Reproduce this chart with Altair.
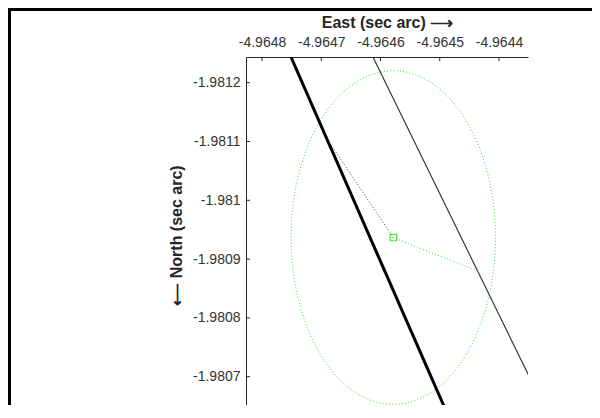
import altair as alt
import pandas as pd
import numpy as np

# Axis ticks and visible domain
x_ticks = [-4.9648, -4.9647, -4.9646, -4.9645, -4.9644]
y_ticks = [-1.9812, -1.9811, -1.9810, -1.9809, -1.9808, -1.9807]
x_domain = [-4.964827, -4.964351]
y_domain = [-1.9812437, -1.9806383]

# Thick black line
thick_x = [-4.9647511, -4.9644878]
thick_y = [-1.9812437, -1.9806383]
# Thin black line
thin_x = [-4.9646127, -4.9643502]
thin_y = [-1.9812437, -1.9807029]
# Error ellipse (centre and semi-axes)
ell_cx = -4.9645784
ell_cy = -1.9809366
ell_a = 0.0001725
ell_b = 0.0002837
# Dotted connectors
black_dot_x = [-4.9646895, -4.9645784]
black_dot_y = [-1.9811034, -1.9809366]
green_dot_x = [-4.9645784, -4.9644358]
green_dot_y = [-1.9809366, -1.9808798]

W, H = 282, 356
PAD = {"left": 238, "top": 49, "right": 64, "bottom": -8}

xs = alt.Scale(domain=x_domain, nice=False, zero=False)
ys = alt.Scale(domain=y_domain, nice=False, zero=False, reverse=True)

t = np.linspace(0, 2 * np.pi, 241)
ell_df = pd.DataFrame({"x": ell_cx + ell_a * np.cos(t),
                       "y": ell_cy + ell_b * np.sin(t),
                       "o": np.arange(len(t))})


def seg(xv, yv):
    return pd.DataFrame({"x": xv, "y": yv, "o": list(range(len(xv)))})


x_axis = alt.Axis(orient="top", values=x_ticks, format="~g", grid=False, ticks=False,
                  labelExpr="replace(datum.label, '\u2212', '-')",
                  title="East (sec arc) \u27f6", labelPadding=8, titlePadding=5)
y_axis = alt.Axis(orient="left", values=y_ticks, format="~g", grid=False, ticks=False,
                  labelExpr="replace(datum.label, '\u2212', '-')",
                  title="\u27f5 North (sec arc)", labelPadding=6, titlePadding=8)


def X():
    return alt.X("x:Q", scale=xs, axis=x_axis)


def Y():
    return alt.Y("y:Q", scale=ys, axis=y_axis)


ellipse = alt.Chart(ell_df).mark_line(
    color="#22ee22", strokeWidth=1, strokeDash=[1, 2.2], clip=True
).encode(x=X(), y=Y(), order="o:Q")

thick = alt.Chart(seg(thick_x, thick_y)).mark_line(
    color="#000000", strokeWidth=3, clip=True
).encode(x=X(), y=Y(), order="o:Q")

thin = alt.Chart(seg(thin_x, thin_y)).mark_line(
    color="#2a2a2a", strokeWidth=1.1, clip=True
).encode(x=X(), y=Y(), order="o:Q")

black_dot = alt.Chart(seg(black_dot_x, black_dot_y)).mark_line(
    color="#444444", strokeWidth=1, strokeDash=[1, 2], clip=True
).encode(x=X(), y=Y(), order="o:Q")

green_dot = alt.Chart(seg(green_dot_x, green_dot_y)).mark_line(
    color="#22ee22", strokeWidth=1, strokeDash=[1, 2.2], clip=True
).encode(x=X(), y=Y(), order="o:Q")

square = alt.Chart(pd.DataFrame({"x": [ell_cx], "y": [ell_cy]})).mark_point(
    shape="square", filled=False, color="#00dd00", size=40, strokeWidth=1.2
).encode(x=X(), y=Y())

xtick = alt.Chart(pd.DataFrame({"x": x_ticks})).mark_rule(
    color="#262626", strokeWidth=1
).encode(x=X(), y=alt.value(0), y2=alt.value(4))

ytick = alt.Chart(pd.DataFrame({"y": y_ticks})).mark_rule(
    color="#262626", strokeWidth=1
).encode(y=Y(), x=alt.value(0), x2=alt.value(4))

frame_df = pd.DataFrame({"k": [0]})
frame_top = alt.Chart(frame_df).mark_rule(color="#000000", strokeWidth=3).encode(
    x=alt.value(-PAD["left"]), x2=alt.value(W + PAD["right"]),
    y=alt.value(-PAD["top"] + 1.5))
frame_left = alt.Chart(frame_df).mark_rule(color="#000000", strokeWidth=3).encode(
    x=alt.value(-PAD["left"] + 1.5), y=alt.value(-PAD["top"]),
    y2=alt.value(H + 20))

chart = alt.layer(
    ellipse, thick, thin, black_dot, green_dot, square, xtick, ytick,
    frame_top, frame_left
).properties(
    width=W, height=H,
    autosize=alt.AutoSizeParams(type="none"),
    padding=PAD,
    background="#ffffff",
).configure_view(stroke=None).configure_axis(
    grid=False, ticks=False,
    domainColor="#262626", domainWidth=1,
    labelColor="#333333", titleColor="#262626",
    labelFont="Liberation Sans", titleFont="Liberation Sans",
    labelFontSize=14, titleFontSize=16, titleFontWeight="bold",
)

chart.save("out.html", embed_options={"renderer": "svg", "actions": False})
